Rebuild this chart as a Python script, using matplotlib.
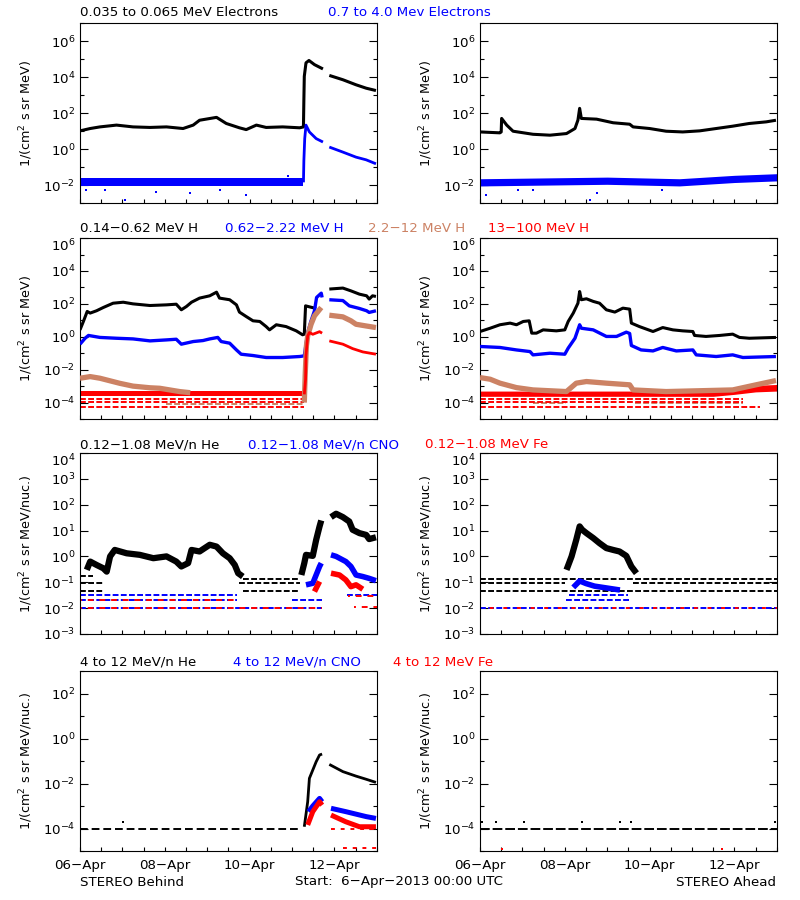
import numpy as np
import matplotlib.pyplot as plt
from matplotlib.ticker import FixedLocator, FuncFormatter, NullFormatter

nan = np.nan

# time axis: days since 2013-04-06 00:00 UTC ; intensities stored as log10(flux)
day_ticks = [0, 2, 4, 6]
day_labels = ['06\u2212Apr', '08\u2212Apr', '10\u2212Apr', '12\u2212Apr']

BLACK, BLUE, TAN, RED = '#000000', '#0000ff', '#cc8264', '#ff0000'

# ---------------- row 1 : electrons ----------------
e_lo_b_t = [0.0, 0.24, 0.47, 0.86, 1.25, 1.65, 2.04, 2.43, 2.67, 2.82, 3.22, 3.45, 3.76, 3.92, 4.16, 4.39,
            4.78, 5.18, 5.27, 5.28, 5.29, 5.33, 5.40, 5.53, 5.73, nan, 5.88, 6.20, 6.51, 6.75, 6.98]
e_lo_b_v = [1.01, 1.14, 1.23, 1.33, 1.23, 1.20, 1.23, 1.14, 1.33, 1.60, 1.76, 1.42, 1.18, 1.08, 1.33, 1.20,
            1.23, 1.18, 1.23, 2.73, 4.04, 4.79, 4.92, 4.69, 4.45, nan, 4.09, 3.85, 3.57, 3.38, 3.25]
e_hi_b_band_t = [0.0, 5.27]
e_hi_b_band_lo = [-2.05, -2.05]
e_hi_b_band_hi = [-1.6, -1.6]
e_hi_b_t = [5.27, 5.28, 5.30, 5.33, 5.41, 5.57, 5.73, nan, 5.88, 6.20, 6.51, 6.75, 6.98]
e_hi_b_v = [-1.85, -0.64, 0.58, 1.33, 0.95, 0.58, 0.39, nan, 0.11, -0.17, -0.45, -0.60, -0.82]
e_hi_b_out_t = [0.14, 1.06, 1.80, 2.59, 3.92, 4.91, 0.6, 3.3]
e_hi_b_out_v = [-2.30, -2.84, -2.36, -2.47, -2.54, -1.48, -2.25, -2.3]

e_lo_a_t = [0.0, 0.47, 0.50, 0.51, 0.63, 0.78, 1.25, 1.65, 2.04, 2.24, 2.31, 2.35, 2.39, 2.75, 3.14, 3.53,
            3.61, 4.00, 4.39, 4.78, 5.18, 5.57, 5.96, 6.35, 6.75, 6.98]
e_lo_a_v = [0.95, 0.90, 0.95, 1.70, 1.33, 0.99, 0.82, 0.77, 0.86, 1.14, 1.61, 2.26, 1.70, 1.66, 1.46, 1.38,
            1.23, 1.14, 0.99, 0.95, 1.01, 1.14, 1.27, 1.42, 1.51, 1.60]
e_hi_a_band_t = [0.0, 3.0, 4.7, 6.0, 7.0]
e_hi_a_band_lo = [-2.05, -1.96, -2.05, -1.86, -1.77]
e_hi_a_band_hi = [-1.65, -1.56, -1.65, -1.46, -1.37]
e_hi_a_out_t = [0.14, 1.25, 2.59, 2.75, 4.30, 0.9]
e_hi_a_out_v = [-2.54, -2.30, -2.84, -2.47, -2.30, -2.25]

# ---------------- row 2 : protons ----------------
h1_b_t = [0.0, 0.08, 0.17, 0.24, 0.39, 0.55, 0.78, 1.02, 1.25, 1.65, 2.04, 2.27, 2.39, 2.51, 2.63, 2.82,
          3.06, 3.22, 3.29, 3.53, 3.69, 3.76, 3.92, 4.08, 4.24, 4.39, 4.47, 4.63, 4.86, 5.10, 5.25, 5.29,
          5.32, 5.41, 5.57, nan, 5.88, 6.20, 6.39, 6.59, 6.76, 6.82, 6.90, 6.98]
h1_b_v = [0.42, 0.93, 1.54, 1.44, 1.58, 1.78, 2.04, 2.10, 2.00, 1.90, 1.94, 1.98, 1.64, 1.84, 2.10, 2.35,
          2.49, 2.71, 2.35, 2.25, 1.94, 1.50, 1.23, 0.97, 0.93, 0.62, 0.42, 0.73, 0.62, 0.36, 0.12, 0.16,
          1.88, 1.82, 1.72, nan, 2.90, 2.96, 2.79, 2.59, 2.49, 2.29, 2.49, 2.45]
h2_b_t = [0.0, 0.12, 0.20, 0.47, 0.86, 1.25, 1.65, 2.04, 2.27, 2.39, 2.67, 2.90, 3.06, 3.25, 3.33, 3.53,
          3.69, 3.80, 4.08, 4.39, 4.78, 5.18, 5.29, 5.37, 5.45, 5.53, 5.58, 5.69, 5.71, nan, 5.88, 6.20,
          6.35, 6.59, 6.76, 6.82, 6.98]
h2_b_v = [-0.45, -0.09, 0.08, -0.04, -0.09, -0.13, -0.25, -0.19, -0.15, -0.45, -0.29, -0.23, -0.13, -0.04,
          -0.29, -0.39, -0.80, -1.06, -1.14, -1.26, -1.26, -1.20, -1.16, 0.26, 0.97, 1.58, 2.39, 2.65, 2.39,
          nan, 2.25, 2.20, 1.88, 1.72, 1.58, 1.48, 1.58]
h3_b_t = [0.0, 0.24, 0.47, 0.94, 1.25, 1.65, 1.88, 2.35, 2.60, nan, 5.29, 5.31, 5.34, 5.37, 5.45, 5.53,
          5.69, nan, 5.88, 6.20, 6.39, 6.51, 6.74, 6.98]
h3_b_v = [-2.52, -2.42, -2.52, -2.83, -3.00, -3.10, -3.13, -3.33, -3.40, nan, -4.00, -2.38, -0.55, 0.05,
          0.76, 1.27, 1.78, nan, 1.31, 1.21, 0.97, 0.76, 0.66, 0.56]
h3_b_floor = [(-4.08, 2.04, 5.29)]
h4_b_band_t = [0.0, 5.29]
h4_b_band_lo = [-3.62, -3.62]
h4_b_band_hi = [-3.30, -3.30]
h4_b_levels = [(-3.80, 0.0, 5.29), (-3.95, 0.0, 5.29), (-4.25, 0.0, 5.29)]
h4_b_t = [5.29, 5.32, 5.33, 5.37, 5.41, 5.49, 5.65, 5.71, nan, 5.88, 6.20, 6.43, 6.67, 6.98]
h4_b_v = [-3.50, -2.59, -1.16, 0.05, 0.26, 0.15, 0.31, 0.22, nan, -0.25, -0.45, -0.72, -0.92, -1.06]

h1_a_t = [0.0, 0.24, 0.47, 0.71, 0.86, 1.02, 1.16, 1.22, 1.33, 1.49, 1.80, 2.00, 2.08, 2.20, 2.31, 2.35,
          2.39, 2.51, 2.67, 2.82, 2.98, 3.18, 3.37, 3.53, 3.57, 3.76, 4.08, 4.31, 4.55, 4.78, 5.02, 5.06,
          5.33, 5.65, 5.96, 6.12, 6.35, 6.98]
h1_a_v = [0.32, 0.52, 0.73, 0.83, 0.73, 0.93, 0.97, 0.22, 0.22, 0.42, 0.36, 0.42, 0.93, 1.44, 2.04, 2.75,
          2.25, 2.31, 2.15, 2.04, 1.64, 1.50, 1.74, 1.68, 0.83, 0.62, 0.32, 0.56, 0.42, 0.36, 0.32, 0.08,
          0.02, 0.08, 0.16, -0.04, -0.09, -0.04]
h2_a_t = [0.0, 0.47, 0.86, 1.18, 1.25, 1.65, 2.00, 2.08, 2.24, 2.35, 2.39, 2.67, 2.98, 3.22, 3.45, 3.53,
          3.57, 3.80, 4.08, 4.31, 4.63, 5.02, 5.10, 5.57, 5.96, 6.20, 6.98]
h2_a_v = [-0.59, -0.65, -0.80, -0.90, -1.10, -1.00, -1.06, -0.69, -0.09, 0.73, 0.52, 0.42, 0.02, 0.02, 0.28,
          0.20, -0.53, -0.80, -0.86, -0.65, -0.86, -0.80, -1.10, -1.20, -1.10, -1.26, -1.20]
h3_a_t = [0.0, 0.24, 0.47, 0.86, 1.25, 2.04, 2.27, 2.51, 2.98, 3.53, 3.61, 4.39, 5.96, 6.51, 6.98]
h3_a_v = [-2.48, -2.58, -2.82, -3.09, -3.23, -3.33, -2.82, -2.72, -2.82, -2.92, -3.23, -3.33, -3.23, -2.92,
          -2.66]
h3_a_floor = [(-4.05, 1.25, 2.04), (-4.05, 3.65, 6.20)]
h4_a_band_t = [0.0, 5.5, 6.0, 6.5, 7.0]
h4_a_band_lo = [-3.62, -3.62, -3.50, -3.35, -3.30]
h4_a_band_hi = [-3.30, -3.30, -3.10, -2.95, -2.90]
h4_a_levels = [(-3.80, 0.0, 6.2), (-3.95, 0.0, 6.2), (-4.25, 0.0, 6.6)]

# ---------------- row 3 : 0.12-1.08 MeV/n ions ----------------
he_b_t = [0.16, 0.24, 0.39, 0.55, 0.63, 0.71, 0.82, 1.10, 1.41, 1.73, 2.04, 2.27, 2.39, 2.55, 2.63, 2.82,
          3.06, 3.22, 3.37, 3.53, 3.65, 3.73, 3.84, nan, 5.22, 5.29, 5.33, 5.49, 5.57, 5.65, 5.69, nan,
          5.92, 6.04, 6.20, 6.35, 6.43, 6.59, 6.75, 6.82, 6.98]
he_b_v = [-0.52, -0.20, -0.33, -0.46, -0.59, 0.00, 0.25, 0.12, 0.06, -0.07, 0.00, -0.20, -0.39, -0.26,
          0.25, 0.19, 0.45, 0.38, 0.12, -0.07, -0.33, -0.65, -0.78, nan, -0.72, -0.26, 0.06, 0.02, 0.64,
          1.16, 1.39, nan, 1.52, 1.65, 1.52, 1.35, 1.03, 0.90, 0.83, 0.67, 0.74]
he_b_levels = [(-0.74, 0.0, 0.30), (-1.04, 0.0, 0.55), (-1.32, 0.0, 0.55), (-0.88, 3.85, 5.20),
               (-1.04, 3.75, 5.20), (-1.32, 3.85, 5.20)]
cno_b_t = [5.33, 5.49, 5.65, 5.69, nan, 5.92, 6.04, 6.27, 6.39, 6.51, 6.67, 6.82, 6.98]
cno_b_v = [-1.10, -1.04, -0.39, -0.26, nan, 0.06, 0.00, -0.20, -0.39, -0.72, -0.78, -0.85, -0.94]
cno_b_levels = [(-1.49, 0.0, 3.70), (-1.68, 0.0, 3.70), (-2.00, 0.0, 5.70), (-1.68, 5.0, 5.70),
                (-1.49, 6.30, 7.0)]
fe_b_t = [5.53, 5.65, nan, 5.92, 6.12, 6.27, 6.39, 6.51, 6.67]
fe_b_v = [-1.36, -0.97, nan, -0.65, -0.72, -0.91, -1.17, -1.10, -1.27]
fe_b_levels = [(-2.00, 0.0, 5.70), (-1.68, 0.0, 3.70), (-1.53, 6.31, 7.0), (-1.96, 6.47, 7.0)]

he_a_t = [2.04, 2.16, 2.27, 2.35, 2.41, 2.51, 2.67, 2.82, 2.98, 3.14, 3.29, 3.45, 3.57, 3.69]
he_a_v = [-0.52, 0.00, 0.64, 1.16, 1.03, 0.90, 0.71, 0.51, 0.32, 0.25, 0.19, 0.02, -0.39, -0.65]
he_a_levels = [(-0.88, 0.0, 7.0), (-1.04, 0.0, 2.0), (-1.04, 3.60, 7.0), (-1.32, 0.0, 7.0)]
cno_a_t = [2.20, 2.35, 2.50, 2.70, 2.90, 3.10, 3.30]
cno_a_v = [-1.20, -0.95, -1.05, -1.15, -1.20, -1.25, -1.30]
cno_a_levels = [(-2.00, 0.0, 7.0), (-1.68, 2.04, 3.55), (-1.49, 2.10, 3.50)]
fe_a_levels = [(-2.00, 0.0, 7.0)]

# ---------------- row 4 : 4-12 MeV/n ions ----------------
he4_b_t = [5.29, 5.37, 5.41, 5.49, 5.57, 5.65, 5.71, nan, 5.88, 6.20, 6.51, 6.75, 6.98]
he4_b_v = [-3.92, -2.81, -1.77, -1.40, -1.03, -0.73, -0.69, nan, -1.15, -1.47, -1.67, -1.81, -1.95]
he4_b_levels = [(-4.0, 0.0, 5.20)]
cno4_b_t = [5.39, 5.49, 5.65, 5.71, nan, 5.92, 6.27, 6.75, 6.98]
cno4_b_v = [-3.25, -3.00, -2.66, -2.81, nan, -3.10, -3.25, -3.47, -3.55]
fe4_b_t = [5.37, 5.49, 5.65, 5.71, nan, 5.92, 6.27, 6.59, 6.98]
fe4_b_v = [-3.84, -3.25, -2.81, -2.96, nan, -3.40, -3.70, -3.92, -3.92]
fe4_b_levels = [(-4.0, 5.92, 7.0), (-4.85, 6.2, 7.0)]
dots4_b_t = [1.02]
dots4_b_v = [-3.70]

he4_a_levels = [(-4.0, 0.0, 7.0)]
dots4_a_t = [0.05, 0.37, 1.04, 2.40, 3.30, 3.55, 6.96]
dots4_a_v = [-3.70, -3.70, -3.70, -3.70, -3.70, -3.70, -3.70]
fe4_a_dots_t = [0.52, 5.70]
fe4_a_dots_v = [-4.90, -4.90]


def lg(v):
    return np.power(10.0, np.asarray(v, dtype=float))


def trace(ax, t, v, c, lw=1.8):
    ax.plot(t, lg(v), color=c, lw=lw, solid_capstyle='butt', zorder=3)


def band(ax, t, lo, hi, c):
    ax.fill_between(t, lg(lo), lg(hi), color=c, lw=0, zorder=2)


def levels(ax, segs, c, dash=(0, (3, 1.2))):
    for y, t0, t1 in segs:
        ax.plot([t0, t1], lg([y, y]), color=c, lw=1.4, ls=dash, zorder=2)


def dots(ax, t, v, c):
    ax.plot(t, lg(v), ls='none', marker='s', ms=1.8, mew=0, color=c, zorder=3)


fig = plt.figure(figsize=(8, 9), dpi=100)
plt.rcParams['mathtext.fontset'] = 'dejavusans'
FS = 9.6

col_x = [0.1, 0.6]
col_w = 0.371
rows = [(0.7744, 0.2), (0.5344, 0.2011), (0.2956, 0.2011), (0.0544, 0.2)]
ylims = [(-3, 7), (-5, 6), (-3, 4), (-5, 3)]
ylabels = ['1/(cm$^2$ s sr MeV)', '1/(cm$^2$ s sr MeV)',
           '1/(cm$^2$ s sr MeV/nuc.)', '1/(cm$^2$ s sr MeV/nuc.)']

axes = []
for r, (y0, h) in enumerate(rows):
    row_axes = []
    for c in range(2):
        ax = fig.add_axes([col_x[c], y0, col_w, h])
        ax.set_yscale('log')
        lo, hi = ylims[r]
        ax.set_ylim(10.0 ** lo, 10.0 ** hi)
        ax.set_xlim(0, 7)
        if r == 2:
            major = np.arange(lo, hi + 1)
            minor = []
        else:
            major = [p for p in range(lo, hi + 1) if p % 2 == 0]
            minor = [p for p in range(lo, hi + 1) if p % 2 != 0]
        ax.yaxis.set_major_locator(FixedLocator(10.0 ** np.array(major, dtype=float)))
        ax.yaxis.set_minor_locator(FixedLocator(10.0 ** np.array(minor, dtype=float)))
        ax.yaxis.set_major_formatter(FuncFormatter(lambda v, p: r'$10^{%d}$' % round(np.log10(v))))
        ax.yaxis.set_minor_formatter(NullFormatter())
        ax.xaxis.set_major_locator(FixedLocator(day_ticks))
        ax.xaxis.set_minor_locator(FixedLocator(np.arange(0, 7.01, 0.5)))
        if r == 3:
            ax.set_xticklabels(day_labels, fontsize=FS)
        else:
            ax.set_xticklabels([])
        ax.tick_params(axis='y', which='both', direction='in', left=True, right=True, labelsize=FS)
        ax.tick_params(axis='y', which='major', length=6, width=0.8)
        ax.tick_params(axis='y', which='minor', length=3, width=0.8)
        ax.tick_params(axis='x', which='both', direction='in', bottom=True, top=False, length=3,
                       width=0.8, pad=6)
        for s in ax.spines.values():
            s.set_linewidth(0.8)
        ax.set_ylabel(ylabels[r], fontsize=9.2)
        ax.yaxis.set_label_coords(-0.15, 0.5)
        row_axes.append(ax)
    axes.append(row_axes)

# row 1
ax = axes[0][0]
trace(ax, e_lo_b_t, e_lo_b_v, BLACK, 2.2)
band(ax, e_hi_b_band_t, e_hi_b_band_lo, e_hi_b_band_hi, BLUE)
trace(ax, e_hi_b_t, e_hi_b_v, BLUE, 2.0)
dots(ax, e_hi_b_out_t, e_hi_b_out_v, BLUE)
ax = axes[0][1]
trace(ax, e_lo_a_t, e_lo_a_v, BLACK, 2.2)
band(ax, e_hi_a_band_t, e_hi_a_band_lo, e_hi_a_band_hi, BLUE)
dots(ax, e_hi_a_out_t, e_hi_a_out_v, BLUE)

# row 2
ax = axes[1][0]
trace(ax, h1_b_t, h1_b_v, BLACK, 2.2)
trace(ax, h2_b_t, h2_b_v, BLUE, 2.4)
trace(ax, h3_b_t, h3_b_v, TAN, 3.8)
levels(ax, h3_b_floor, TAN)
band(ax, h4_b_band_t, h4_b_band_lo, h4_b_band_hi, RED)
levels(ax, h4_b_levels, RED)
trace(ax, h4_b_t, h4_b_v, RED, 2.0)
ax = axes[1][1]
trace(ax, h1_a_t, h1_a_v, BLACK, 2.2)
trace(ax, h2_a_t, h2_a_v, BLUE, 2.4)
trace(ax, h3_a_t, h3_a_v, TAN, 3.8)
levels(ax, h3_a_floor, TAN)
band(ax, h4_a_band_t, h4_a_band_lo, h4_a_band_hi, RED)
levels(ax, h4_a_levels, RED)

# row 3
ax = axes[2][0]
levels(ax, he_b_levels, BLACK)
trace(ax, he_b_t, he_b_v, BLACK, 4.5)
levels(ax, cno_b_levels, BLUE)
trace(ax, cno_b_t, cno_b_v, BLUE, 4.0)
levels(ax, fe_b_levels, RED, (2, (3, 3)))
trace(ax, fe_b_t, fe_b_v, RED, 4.0)
ax = axes[2][1]
levels(ax, he_a_levels, BLACK)
trace(ax, he_a_t, he_a_v, BLACK, 4.5)
levels(ax, cno_a_levels, BLUE)
trace(ax, cno_a_t, cno_a_v, BLUE, 4.0)
levels(ax, fe_a_levels, RED, (2, (2, 5)))

# row 4
ax = axes[3][0]
levels(ax, he4_b_levels, BLACK, (0, (4, 2)))
trace(ax, he4_b_t, he4_b_v, BLACK, 2.0)
trace(ax, cno4_b_t, cno4_b_v, BLUE, 3.6)
trace(ax, fe4_b_t, fe4_b_v, RED, 3.6)
levels(ax, fe4_b_levels, RED, (0, (2, 3)))
dots(ax, dots4_b_t, dots4_b_v, BLACK)
ax = axes[3][1]
levels(ax, he4_a_levels, BLACK, (0, (5, 1.5)))
dots(ax, dots4_a_t, dots4_a_v, BLACK)
dots(ax, fe4_a_dots_t, fe4_a_dots_v, RED)

# channel titles
titles = [
    (0.9856, [(0.100, '0.035 to 0.065 MeV Electrons', BLACK), (0.410, '0.7 to 4.0 Mev Electrons', BLUE)]),
    (0.7456, [(0.100, '0.14-0.62 MeV H', BLACK), (0.281, '0.62-2.22 MeV H', BLUE),
              (0.460, '2.2-12 MeV H', TAN), (0.610, '13-100 MeV H', RED)]),
    (0.5056, [(0.100, '0.12-1.08 MeV/n He', BLACK), (0.310, '0.12-1.08 MeV/n CNO', BLUE),
              (0.531, '0.12-1.08 MeV Fe', RED)]),
    (0.2644, [(0.100, '4 to 12 MeV/n He', BLACK), (0.291, '4 to 12 MeV/n CNO', BLUE),
              (0.491, '4 to 12 MeV Fe', RED)]),
]
for y, items in titles:
    for x, txt, c in items:
        fig.text(x, y, txt.replace('-', '\u2212'), color=c, fontsize=FS, ha='left', va='center')

fig.text(0.100, 0.020, 'STEREO Behind', fontsize=FS, ha='left', va='center')
fig.text(0.369, 0.020, 'Start:  6\u2212Apr\u22122013 00:00 UTC', fontsize=FS, ha='left', va='center')
fig.text(0.970, 0.020, 'STEREO Ahead', fontsize=FS, ha='right', va='center')

# the label of a tick sitting on the top edge is pushed inside the frame
fig.canvas.draw()
for r in (1, 2):
    for ax in axes[r]:
        ax.yaxis.get_major_ticks()[-1].label1.set_va('top')

fig.savefig('out.png', dpi=100)
